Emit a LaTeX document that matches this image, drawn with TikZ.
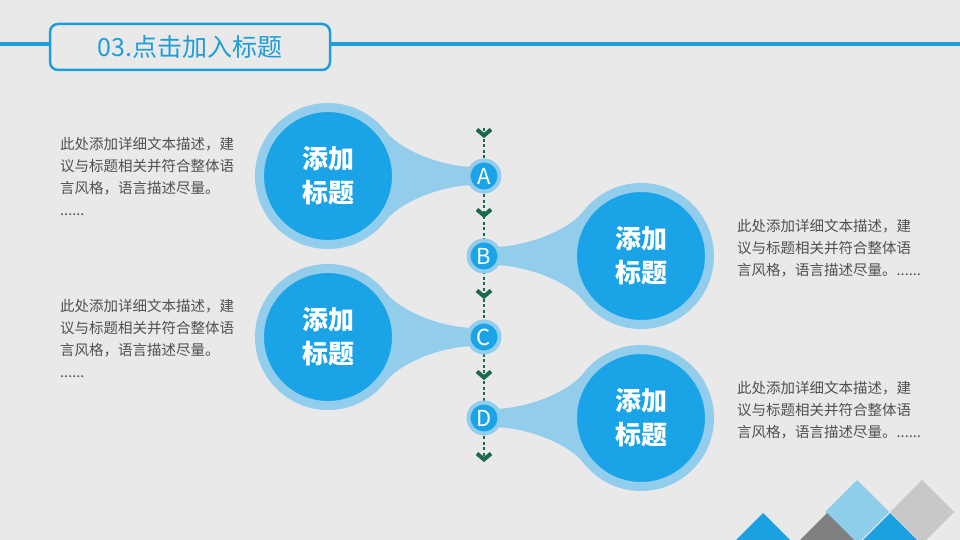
\documentclass[tikz,border=0pt]{standalone}
\usepackage{fontspec}
\setmainfont{Noto Sans CJK SC}
\usetikzlibrary{calc}
\definecolor{bg}{RGB}{233,233,233}
\definecolor{hblue}{RGB}{30,158,216}
\definecolor{cblue}{RGB}{26,163,230}
\definecolor{ring}{RGB}{146,206,236}
\definecolor{dgreen}{RGB}{28,104,82}
\definecolor{txt}{RGB}{80,80,80}
\definecolor{dgray}{RGB}{128,128,128}
\definecolor{lgray}{RGB}{200,200,200}
\definecolor{lblue}{RGB}{142,206,234}
\definecolor{dblue}{RGB}{27,161,226}
\newcommand\stemL[2]{\fill[ring] ($(#1)+(-36:73)$) .. controls ($(#1)+(-36:73)+(16,18)$) and ($(#2)+(-42,-9)$) .. ($(#2)+(-8,-9)$) -- ($(#2)+(-8,9)$) .. controls ($(#2)+(-42,9)$) and ($(#1)+(36:73)+(16,-18)$) .. ($(#1)+(36:73)$) -- cycle;}
\newcommand\stemR[2]{\fill[ring] ($(#1)+(-144:73)$) .. controls ($(#1)+(-144:73)+(-16,18)$) and ($(#2)+(42,-9)$) .. ($(#2)+(8,-9)$) -- ($(#2)+(8,9)$) .. controls ($(#2)+(42,9)$) and ($(#1)+(144:73)+(-16,-18)$) .. ($(#1)+(144:73)$) -- cycle;}
\begin{document}
\begin{tikzpicture}[x=1pt,y=-1pt,
  bigcirc/.style={circle, draw=ring, line width=9pt, fill=cblue, minimum size=137pt, inner sep=0pt,
     text=white, align=center, font=\fontsize{26}{34}\selectfont\bfseries},
  smallcirc/.style={circle, draw=ring, line width=4pt, fill=cblue, minimum size=31pt, inner sep=0pt,
     text=white, font=\fontsize{22}{22}\selectfont},
  chev/.style={draw=dgreen, line width=4pt, line cap=butt, line join=miter},
  desc/.style={anchor=north west, inner sep=0pt, align=left, text=txt, font=\fontsize{14.5}{22}\selectfont}
]
\useasboundingbox (0,0) rectangle (960,540);
\fill[bg] (0,0) rectangle (960,540);

% header
\draw[hblue, line width=4pt] (0,44) -- (50,44);
\draw[hblue, line width=4pt] (330,44) -- (960,44);
\node[draw=hblue, line width=2.5pt, rounded corners=8pt, minimum width=280pt, minimum height=46pt, inner sep=0pt,
  text=hblue, font=\fontsize{25}{25}\selectfont] (title) at (190,47) {03.点击加入标题};

% coordinates of circles
\coordinate (pA) at (328,176);
\coordinate (pB) at (641,256);
\coordinate (pC) at (328,337);
\coordinate (pD) at (641,418);
\coordinate (qA) at (484,176);
\coordinate (qB) at (484,256);
\coordinate (qC) at (484,337);
\coordinate (qD) at (484,418);

% stems
\stemL{pA}{qA}
\stemR{pB}{qB}
\stemL{pC}{qC}
\stemR{pD}{qD}

% dashed timeline
\coordinate (ltop) at (484,128);
\coordinate (lbot) at (484,462);
\draw[dgreen, line width=1.3pt, dash pattern=on 3pt off 2.5pt] (ltop) -- (lbot);

% big circles
\node[bigcirc] (bigA) at (pA) {添加\\标题};
\node[bigcirc] (bigB) at (pB) {添加\\标题};
\node[bigcirc] (bigC) at (pC) {添加\\标题};
\node[bigcirc] (bigD) at (pD) {添加\\标题};

% small circles
\node[smallcirc] (smA) at (qA) {A};
\node[smallcirc] (smB) at (qB) {B};
\node[smallcirc] (smC) at (qC) {C};
\node[smallcirc] (smD) at (qD) {D};

% chevrons
\foreach \y in {133,213,294,375,457}{
  \draw[chev] (477,\y-3.5) -- (484,\y+2.5) -- (491,\y-3.5);
}

% descriptions
\node[desc] (tA) at (60,137.5) {此处添加详细文本描述，建\\议与标题相关并符合整体语\\言风格，语言描述尽量。\\......};
\node[desc] (tC) at (60,299.5) {此处添加详细文本描述，建\\议与标题相关并符合整体语\\言风格，语言描述尽量。\\......};
\node[desc] (tB) at (737,219.5) {此处添加详细文本描述，建\\议与标题相关并符合整体语\\言风格，语言描述尽量。......};
\node[desc] (tD) at (737,381.5) {此处添加详细文本描述，建\\议与标题相关并符合整体语\\言风格，语言描述尽量。......};

% decorative diamonds
\begin{scope}
\clip (0,0) rectangle (960,540);
\fill[lgray] (922,480) -- (954,512) -- (922,544) -- (890,512) -- cycle;
\fill[lblue] (857,480) -- (889,512) -- (857,544) -- (825,512) -- cycle;
\fill[dgray] (827,513) -- (859,545) -- (827,577) -- (795,545) -- cycle;
\fill[dblue] (763,513) -- (795,545) -- (763,577) -- (731,545) -- cycle;
\fill[dblue] (890,513) -- (922,545) -- (890,577) -- (858,545) -- cycle;
\end{scope}
\end{tikzpicture}
\end{document}
